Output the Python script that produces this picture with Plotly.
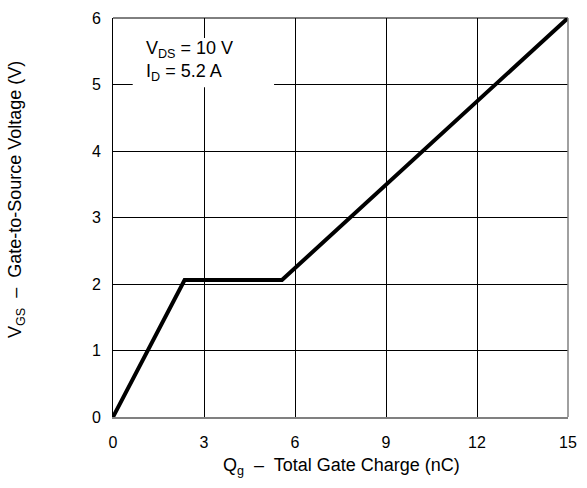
import plotly.graph_objects as go

# Data: gate charge (nC) vs gate-to-source voltage (V)
qg = [0, 2.36, 5.57, 15]
vgs = [0, 2.06, 2.06, 6]

x_ticks = [0, 3, 6, 9, 12, 15]
y_ticks = [0, 1, 2, 3, 4, 5, 6]

FONT = "Liberation Sans, Arial, sans-serif"

fig = go.Figure()
fig.add_trace(go.Scatter(x=qg, y=vgs, mode="lines",
                         line=dict(color="black", width=4),
                         showlegend=False, hoverinfo="skip"))

fig.update_layout(
    width=587, height=488,
    margin=dict(l=113, r=10, t=14, b=71),
    paper_bgcolor="white", plot_bgcolor="white",
    font=dict(family=FONT, size=16, color="black"),
    xaxis=dict(range=[0, 15], tickvals=x_ticks, showgrid=True,
               gridcolor="black", gridwidth=1, zeroline=False,
               showline=True, linecolor="#808080", linewidth=1.5,
               ticks="outside", ticklen=10, tickcolor="rgba(0,0,0,0)",
               tickfont=dict(size=16)),
    yaxis=dict(range=[0, 6], tickvals=y_ticks, showgrid=True,
               gridcolor="black", gridwidth=1, zeroline=False,
               showline=True, linecolor="black", linewidth=1,
               ticks="outside", ticklen=8, tickcolor="rgba(0,0,0,0)",
               tickfont=dict(size=16)),
    shapes=[
        dict(type="rect", xref="x", yref="y", x0=0.65, x1=5.31, y0=4.96, y1=5.7,
             fillcolor="white", line=dict(width=0), layer="above"),
        dict(type="line", xref="paper", yref="paper", x0=0, x1=1, y0=1, y1=1,
             line=dict(color="black", width=1)),
        dict(type="line", xref="paper", yref="paper", x0=1, x1=1, y0=0, y1=1,
             line=dict(color="#808080", width=1.5)),
    ],
    annotations=[
        dict(text="V<sub>DS</sub> = 10 V<br>I<sub>D</sub> = 5.2 A",
             xref="x", yref="y", x=1.02, y=5.35, xanchor="left", yanchor="middle",
             align="left", showarrow=False, font=dict(size=18)),
        dict(text="Q<sub>g</sub>  –  Total Gate Charge (nC)",
             xref="paper", yref="paper", x=0.503, y=-0.125, xanchor="center", yanchor="middle",
             showarrow=False, font=dict(size=18)),
        dict(text="V<sub>GS</sub>  –  Gate-to-Source Voltage (V)",
             xref="paper", yref="paper", x=-0.212, y=0.545, xanchor="center", yanchor="middle",
             textangle=-90, showarrow=False, font=dict(size=18)),
    ],
)

fig.write_html("out.html")
